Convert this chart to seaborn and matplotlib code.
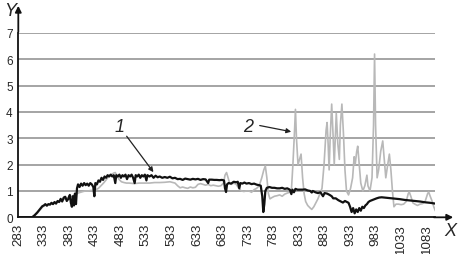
import matplotlib
matplotlib.use("Agg")
import matplotlib.pyplot as plt
import seaborn as sns
import pandas as pd

# ---- data ----
wl1 = [283, 300, 310, 315, 320, 325, 330, 333, 336, 339, 342, 345, 348, 351, 354, 357, 360, 363, 366, 369,
       372, 375, 378, 381, 384, 386, 388, 390, 392, 394, 396, 398, 400, 403, 406, 409, 412, 415, 418, 421,
       424, 427, 430, 432, 434, 437, 440, 443, 446, 449, 452, 455, 458, 461, 464, 467, 470, 473, 475, 478,
       481, 484, 487, 490, 493, 496, 499, 502, 505, 508, 511, 513, 516, 519, 522, 525, 528, 531, 534, 536,
       540, 544, 548, 552, 556, 560, 565, 570, 575, 580, 585, 590, 595, 600, 605, 610, 615, 620, 625, 630,
       635, 640, 645, 650, 655, 657, 662, 667, 672, 677, 682, 686, 688, 690, 692, 695, 700, 705, 710, 713,
       716, 718, 722, 726, 730, 735, 740, 745, 750, 755, 758, 761, 763, 765, 767, 770, 775, 780, 785, 790,
       795, 800, 805, 810, 815, 818, 820, 823, 826, 830, 835, 840, 845, 850, 855, 858, 860, 865, 870, 875,
       880, 883, 888, 893, 897, 900, 905, 910, 915, 919, 923, 927, 930, 933, 936, 939, 942, 945, 948, 951,
       954, 957, 960, 963, 966, 969, 972, 976, 980, 985, 990, 995, 1000, 1010, 1020, 1030, 1040, 1050, 1060, 1070,
       1080, 1090, 1100]
s1 = [0.0, 0.0, 0.0, 0.08, 0.18, 0.3, 0.42, 0.45, 0.5, 0.44, 0.5, 0.48, 0.55, 0.5, 0.58, 0.52, 0.62, 0.58, 0.7, 0.6,
      0.75, 0.78, 0.62, 0.7, 0.85, 0.55, 0.4, 0.8, 0.45, 0.9, 0.5, 1.1, 1.25, 1.15, 1.28, 1.2, 1.3, 1.22, 1.28, 1.2,
      1.3, 1.25, 1.15, 0.8, 1.3, 1.25, 1.4, 1.35, 1.5, 1.42, 1.55, 1.5, 1.6, 1.55, 1.62, 1.55, 1.6, 1.3, 1.6, 1.55,
      1.62, 1.5, 1.6, 1.55, 1.62, 1.45, 1.6, 1.55, 1.62, 1.5, 1.3, 1.6, 1.55, 1.62, 1.5, 1.6, 1.55, 1.62, 1.4, 1.6,
      1.55, 1.6, 1.5, 1.58, 1.52, 1.55, 1.5, 1.53, 1.5, 1.54, 1.48, 1.5, 1.45, 1.46, 1.42, 1.47, 1.45, 1.43, 1.46, 1.44,
      1.46, 1.42, 1.45, 1.44, 1.3, 1.43, 1.43, 1.42, 1.42, 1.41, 1.42, 1.4, 1.1, 0.96, 1.25, 1.3, 1.28, 1.35, 1.33, 1.35,
      1.1, 1.3, 1.28, 1.32, 1.28, 1.3, 1.26, 1.28, 1.24, 1.22, 1.2, 0.8, 0.2, 0.5, 1.0, 1.12, 1.15, 1.12, 1.12, 1.1,
      1.1, 1.12, 1.08, 1.1, 1.05, 0.88, 1.05, 0.95, 1.08, 1.05, 1.05, 1.05, 1.06, 1.02, 1.0, 0.94, 1.0, 0.95, 0.92, 0.95,
      0.8, 0.92, 0.9, 0.85, 0.8, 0.72, 0.72, 0.65, 0.6, 0.56, 0.62, 0.58, 0.55, 0.4, 0.2, 0.35, 0.15, 0.3, 0.2, 0.35,
      0.25, 0.4, 0.35, 0.45, 0.5, 0.58, 0.62, 0.65, 0.68, 0.72, 0.75, 0.76, 0.75, 0.73, 0.71, 0.69, 0.66, 0.64, 0.62, 0.6,
      0.57, 0.55, 0.52]

wl2 = [283, 310, 315, 320, 325, 330, 335, 340, 345, 350, 355, 360, 365, 370, 375, 380, 385, 390, 395, 400,
       405, 410, 415, 420, 425, 430, 435, 440, 445, 450, 455, 460, 465, 470, 473, 476, 480, 485, 490, 495,
       500, 510, 520, 530, 540, 550, 560, 570, 580, 590, 595, 600, 605, 610, 615, 620, 625, 630, 635, 640,
       645, 650, 655, 660, 665, 670, 675, 680, 685, 688, 691, 694, 697, 700, 705, 710, 715, 720, 725, 730,
       735, 740, 745, 750, 755, 760, 764, 767, 770, 773, 776, 780, 785, 790, 795, 800, 805, 810, 815, 818,
       821, 824, 826, 828, 831, 834, 837, 840, 843, 846, 850, 855, 858, 862, 866, 870, 874, 878, 882, 886,
       888, 890, 892, 894, 897, 900, 902, 904, 906, 909, 912, 914, 917, 920, 923, 926, 930, 934, 938, 941,
       943, 946, 948, 951, 954, 958, 962, 966, 968, 972, 976, 979, 981, 983, 986, 989, 993, 997, 1000, 1003,
       1006, 1010, 1013, 1016, 1019, 1023, 1028, 1033, 1038, 1043, 1047, 1049, 1052, 1056, 1060, 1065, 1070, 1075, 1080, 1085,
       1087, 1090, 1094, 1097, 1100]
s2 = [0.0, 0.0, 0.06, 0.15, 0.27, 0.38, 0.45, 0.48, 0.5, 0.52, 0.55, 0.58, 0.62, 0.66, 0.7, 0.75, 0.78, 0.82, 0.85, 0.92,
      0.95, 0.98, 1.0, 1.0, 1.02, 1.02, 1.05, 1.1, 1.2, 1.3, 1.42, 1.55, 1.62, 1.68, 1.7, 1.6, 1.45, 1.35, 1.32, 1.3,
      1.3, 1.28, 1.3, 1.3, 1.3, 1.32, 1.32, 1.33, 1.35, 1.3, 1.2, 1.12, 1.15, 1.12, 1.1, 1.15, 1.12, 1.14, 1.25, 1.28,
      1.25, 1.22, 1.25, 1.2, 1.22, 1.2, 1.18, 1.2, 1.3, 1.6, 1.7, 1.5, 1.3, 1.25, 1.3, 1.25, 1.1, 1.0, 0.98, 1.0,
      1.0, 0.95, 1.05, 1.1, 1.2, 1.5, 1.8, 1.95, 1.5, 0.9, 0.7, 0.75, 0.8, 0.82, 0.85, 0.8, 0.88, 0.92, 0.95, 1.0,
      2.0, 3.2, 4.1, 3.0, 2.0, 2.2, 2.4, 1.5, 0.9, 0.6, 0.45, 0.35, 0.3, 0.4, 0.55, 0.7, 0.9, 1.1, 2.0, 3.3,
      3.6, 2.8, 1.8, 3.0, 4.3, 3.0, 2.0, 3.0, 3.95, 2.8, 2.2, 3.5, 4.3, 3.2, 1.8, 1.0, 0.85, 1.1, 1.5, 2.3,
      2.0, 2.5, 2.7, 2.0, 1.3, 1.0, 1.2, 1.6, 1.2, 1.0, 1.5, 3.5, 6.2, 3.5, 1.5, 1.8, 2.5, 2.9, 2.2, 1.5,
      1.9, 2.4, 1.8, 1.0, 0.4, 0.5, 0.5, 0.48, 0.5, 0.6, 0.9, 0.96, 0.8, 0.55, 0.5, 0.45, 0.5, 0.52, 0.6, 0.9,
      0.96, 0.8, 0.6, 0.4, 0.25]

xticks = list(range(283, 1084, 50))
yticks = [0, 1, 2, 3, 4, 5, 6, 7]

df1 = pd.DataFrame({"x": wl1, "y": s1})
df2 = pd.DataFrame({"x": wl2, "y": s2})

sns.set_style("white")
plt.rcParams['font.family'] = ['Liberation Sans', 'DejaVu Sans']

W, H = 460, 255
fig = plt.figure(figsize=(W / 100, H / 100), dpi=100)
x0, x1 = 18.3, 435.3
y0, y7 = 218.3, 34.0
ax = fig.add_axes([x0 / W, (H - y0) / H, (x1 - x0) / W, (y0 - y7) / H])

for v in yticks[1:]:
    ax.axhline(v, color="#8c8c8c", lw=1.1, zorder=1)

sns.lineplot(data=df2, x="x", y="y", ax=ax, color="#b8b8b8", lw=1.2, sort=False,
             estimator=None, zorder=2)
sns.lineplot(data=df1, x="x", y="y", ax=ax, color="#111111", lw=1.6, sort=False,
             estimator=None, zorder=3)

ax.set_xlim(283, 1100)
ax.set_ylim(0, 7)
ax.set_xticks(xticks)
ax.set_xticklabels([str(t) for t in xticks], rotation=90, fontsize=9.6)
ax.set_yticks(yticks)
ax.set_yticklabels([str(t) for t in yticks], fontsize=8.5)
ax.tick_params(axis="x", length=3, width=0.8, pad=1, color="#333333")
ax.tick_params(axis="y", length=3, width=0.8, pad=1, color="#333333")
ax.set_xlabel("")
ax.set_ylabel("")
for s in ["top", "right"]:
    ax.spines[s].set_visible(False)
ax.spines["left"].set_linewidth(1.3)
ax.spines["bottom"].set_linewidth(1.3)
ax.spines["left"].set_color("#111111")
ax.spines["bottom"].set_color("#111111")

# axis arrows
ax.annotate("", xy=(0, (y0 - 4) / (y0 - y7)), xytext=(0, 0.99), xycoords="axes fraction",
            arrowprops=dict(arrowstyle="-|>", color="#111111", lw=1.3, mutation_scale=9),
            annotation_clip=False)
ax.annotate("", xy=((456 - x0) / (x1 - x0), 0), xytext=(0.99, 0), xycoords="axes fraction",
            arrowprops=dict(arrowstyle="-|>", color="#111111", lw=1.3, mutation_scale=9),
            annotation_clip=False)
fig.text(10 / W, 1 - 12 / H, "Y", fontsize=13, style="italic", ha="center", va="center")
fig.text(450 / W, 1 - 232 / H, "X", fontsize=13, style="italic", ha="center", va="center")

# series labels with pointer arrows
fig.text(120 / W, 1 - 128 / H, "1", fontsize=13, style="italic", ha="center", va="center")
fig.text(248 / W, 1 - 128 / H, "2", fontsize=13, style="italic", ha="center", va="center")
ax.annotate("", xy=(551, 1.63), xytext=(125, H - 135), textcoords="figure pixels",
            arrowprops=dict(arrowstyle="-|>", color="#222222", lw=0.9, mutation_scale=7))
ax.annotate("", xy=(823, 3.23), xytext=(257, H - 126), textcoords="figure pixels",
            arrowprops=dict(arrowstyle="-|>", color="#222222", lw=0.9, mutation_scale=7))

fig.savefig("out.png", dpi=100)
